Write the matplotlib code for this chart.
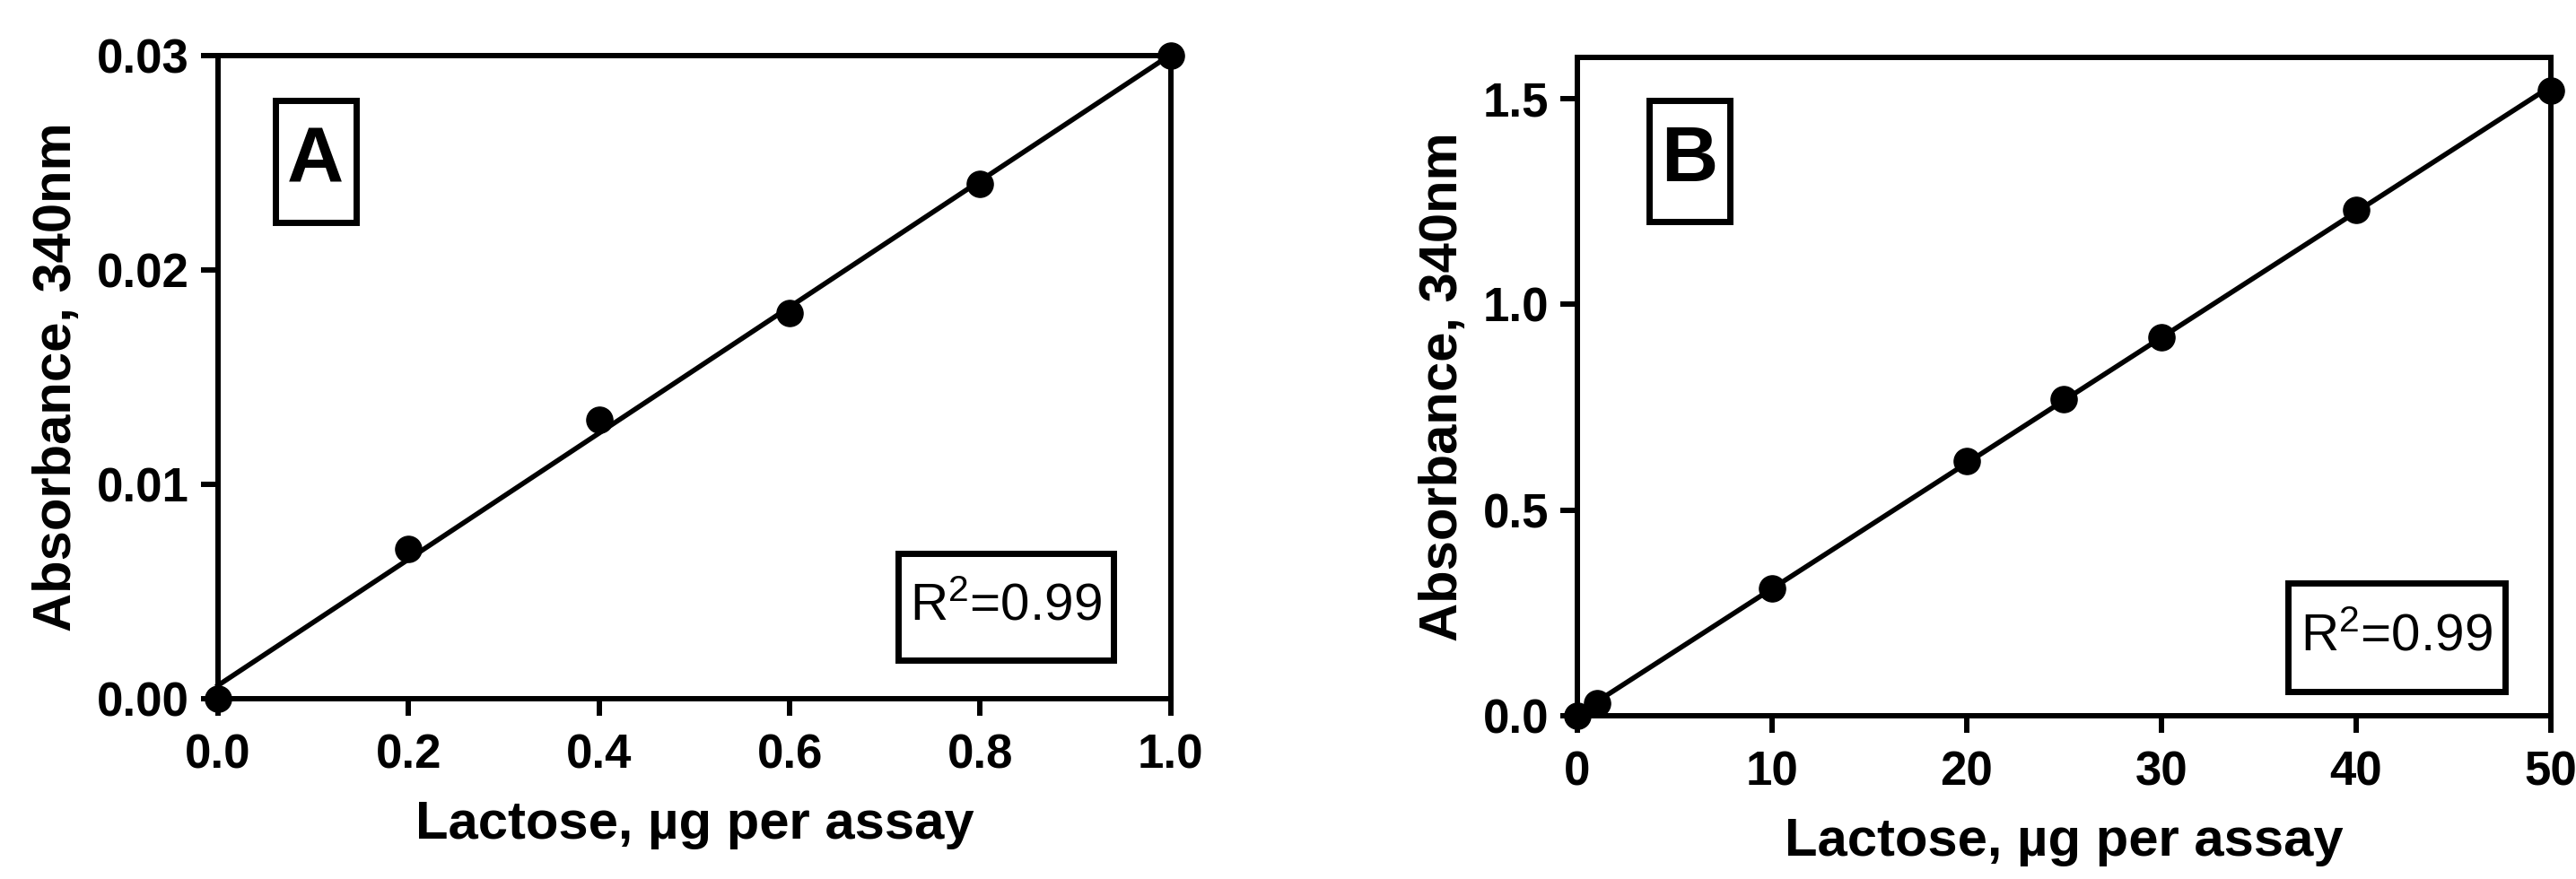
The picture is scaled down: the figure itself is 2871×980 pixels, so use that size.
import numpy as np
import matplotlib
matplotlib.use('Agg')
import matplotlib.pyplot as plt
from matplotlib.patches import Rectangle

plt.rcParams['font.family'] = ['Liberation Sans', 'DejaVu Sans']
plt.rcParams['mathtext.fontset'] = 'custom'
plt.rcParams['mathtext.rm'] = 'Liberation Sans'
plt.rcParams['mathtext.default'] = 'regular'

# Panel A data
lactose_a = [0.0, 0.2, 0.4, 0.6, 0.8, 1.0]
absorb_a = [0.0, 0.007, 0.013, 0.018, 0.024, 0.030]
xticks_a = [0.0, 0.2, 0.4, 0.6, 0.8, 1.0]
yticks_a = [0.00, 0.01, 0.02, 0.03]

# Panel B data
lactose_b = [0, 1, 10, 20, 25, 30, 40, 50]
absorb_b = [0.0, 0.03, 0.31, 0.62, 0.77, 0.92, 1.23, 1.52]
xticks_b = [0, 10, 20, 30, 40, 50]
yticks_b = [0.0, 0.5, 1.0, 1.5]

fig = plt.figure(figsize=(28.71, 9.8), dpi=100)
ax_a = fig.add_axes([0.0846, 0.2051, 0.3699, 0.7316])
ax_b = fig.add_axes([0.6123, 0.1857, 0.3779, 0.749])


def draw_panel(ax, x, y, xlim, ylim, xticks, yticks, xfmt, yfmt, letter, letter_box, r2_box):
    # linear fit line
    slope, icpt = np.polyfit(x, y, 1)
    xs = np.array(xlim)
    ax.plot(xs, slope * xs + icpt, color='black', lw=4.0, zorder=3, clip_on=False)
    ax.plot(x, y, 'o', color='black', ms=21, zorder=4, clip_on=False)

    ax.set_xlim(*xlim)
    ax.set_ylim(*ylim)
    ax.set_xticks(xticks)
    ax.set_yticks(yticks)
    ax.set_xticklabels([xfmt.format(v) for v in xticks])
    ax.set_yticklabels([yfmt.format(v) for v in yticks])
    for s in ax.spines.values():
        s.set_linewidth(4.3)
    ax.tick_params(direction='out', length=14, width=4.3, labelsize=38)
    ax.tick_params(axis='x', pad=14)
    ax.tick_params(axis='y', pad=9)
    for lbl in ax.get_xticklabels() + ax.get_yticklabels():
        lbl.set_fontweight('bold')
    ax.set_xlabel('Lactose, µg per assay', fontsize=43, fontweight='bold', labelpad=17)
    ax.set_ylabel('Absorbance, 340nm', fontsize=43, fontweight='bold', labelpad=12)

    # letter box
    x0, x1, y0, y1 = letter_box
    ax.add_patch(Rectangle((x0, y0), x1 - x0, y1 - y0, transform=ax.transAxes,
                           fill=False, lw=5, ec='black', clip_on=False, zorder=5))
    ax.text((x0 + x1) / 2, (y0 + y1) / 2, letter, transform=ax.transAxes,
            ha='center', va='center', fontsize=63, fontweight='bold')

    # R^2 box
    x0, x1, y0, y1 = r2_box
    ax.add_patch(Rectangle((x0, y0), x1 - x0, y1 - y0, transform=ax.transAxes,
                           fill=False, lw=5, ec='black', clip_on=False, zorder=5))
    ax.text((x0 + x1) / 2, (y0 + y1) / 2, r'R$^{2}$=0.99', transform=ax.transAxes,
            ha='center', va='center', fontsize=42)


draw_panel(ax_a, lactose_a, absorb_a, (0, 1.0), (0, 0.03), xticks_a, yticks_a,
           '{:.1f}', '{:.2f}', 'A', (0.060, 0.145, 0.741, 0.930), (0.714, 0.940, 0.060, 0.226))
draw_panel(ax_b, lactose_b, absorb_b, (0, 50), (0, 1.6), xticks_b, yticks_b,
           '{:d}', '{:.1f}', 'B', (0.074, 0.157, 0.751, 0.935), (0.730, 0.953, 0.037, 0.201))

fig.savefig('out.png', dpi=100)
